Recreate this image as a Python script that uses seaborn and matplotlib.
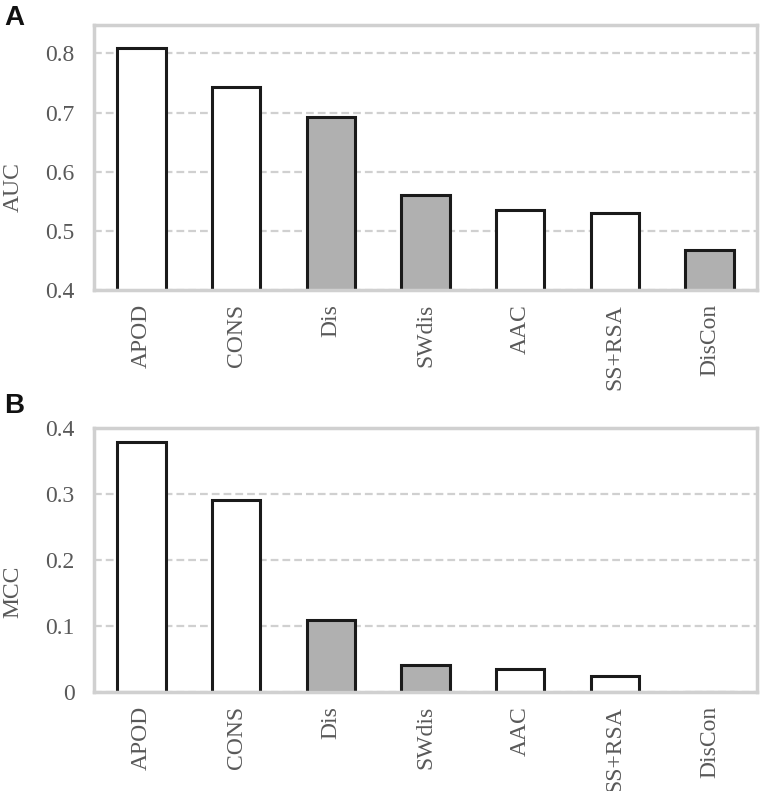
import matplotlib
matplotlib.use("Agg")
import matplotlib.pyplot as plt
from matplotlib import font_manager
import seaborn as sns
import pandas as pd

methods = ["APOD", "CONS", "Dis", "SWdis", "AAC", "SS+RSA", "DisCon"]
auc = [0.809, 0.743, 0.692, 0.561, 0.535, 0.531, 0.468]
mcc = [0.379, 0.291, 0.109, 0.041, 0.035, 0.025, 0.0]
shaded = ["Dis", "SWdis", "DisCon"]

sns.set_theme(style="white")
serif = "Liberation Serif"
try:
    font_manager.findfont(serif, fallback_to_default=False)
except Exception:
    serif = "DejaVu Serif"
plt.rcParams["font.family"] = [serif, "DejaVu Serif"]

fill_colors = {m: ("#b0b0b0" if m in shaded else "#ffffff") for m in methods}

fig = plt.figure(figsize=(7.6, 7.91), dpi=100)
W, H = 760, 791
axA = fig.add_axes([94 / W, 1 - 290 / H, 663 / W, 265 / H])
axB = fig.add_axes([94 / W, 1 - 692 / H, 663 / W, 264 / H])

dfA = pd.DataFrame({"method": methods, "value": auc})
dfB = pd.DataFrame({"method": methods, "value": mcc})

spine_c = "#d0d0d0"
text_c = "#595959"

for ax, df, ylim, ticks, tlabels, ylab, ly in [
    (axA, dfA, (0.4, 0.848), [0.4, 0.5, 0.6, 0.7, 0.8], ["0.4", "0.5", "0.6", "0.7", "0.8"], "AUC", 0.39),
    (axB, dfB, (0.0, 0.4), [0.0, 0.1, 0.2, 0.3, 0.4], ["0", "0.1", "0.2", "0.3", "0.4"], "MCC", 0.38),
]:
    ax.set_axisbelow(True)
    ax.yaxis.grid(True, color=spine_c, linestyle=(0, (3.5, 1.8)), linewidth=1.6)
    sns.barplot(data=df, x="method", y="value", hue="method", palette=fill_colors,
                order=methods, hue_order=methods, legend=False, ax=ax,
                width=0.51, edgecolor="#1a1a1a", linewidth=2.2, saturation=1)
    ax.set_ylim(*ylim)
    ax.set_xlim(-0.5, 6.5)
    ax.set_yticks(ticks)
    ax.set_yticklabels(tlabels)
    ax.set_xlabel("")
    ax.set_ylabel(ylab, fontsize=17, color=text_c, va="center", ha="center")
    ax.yaxis.set_label_coords((13 - 94) / 663, ly)
    ax.tick_params(axis="both", length=0, labelsize=17, labelcolor=text_c)
    ax.tick_params(axis="y", pad=14)
    ax.tick_params(axis="x", pad=10)
    for lab in ax.get_xticklabels():
        lab.set_rotation(90)
    for s in ax.spines.values():
        s.set_visible(True)
        s.set_color(spine_c)
        s.set_linewidth(2.5)

fig.text(4 / W, 1 - 25 / H, "A", fontsize=20, fontweight="bold",
         family=["Liberation Sans", "DejaVu Sans"], color="#111111")
fig.text(4 / W, 1 - 413 / H, "B", fontsize=20, fontweight="bold",
         family=["Liberation Sans", "DejaVu Sans"], color="#111111")

fig.savefig("out.png", dpi=100)
